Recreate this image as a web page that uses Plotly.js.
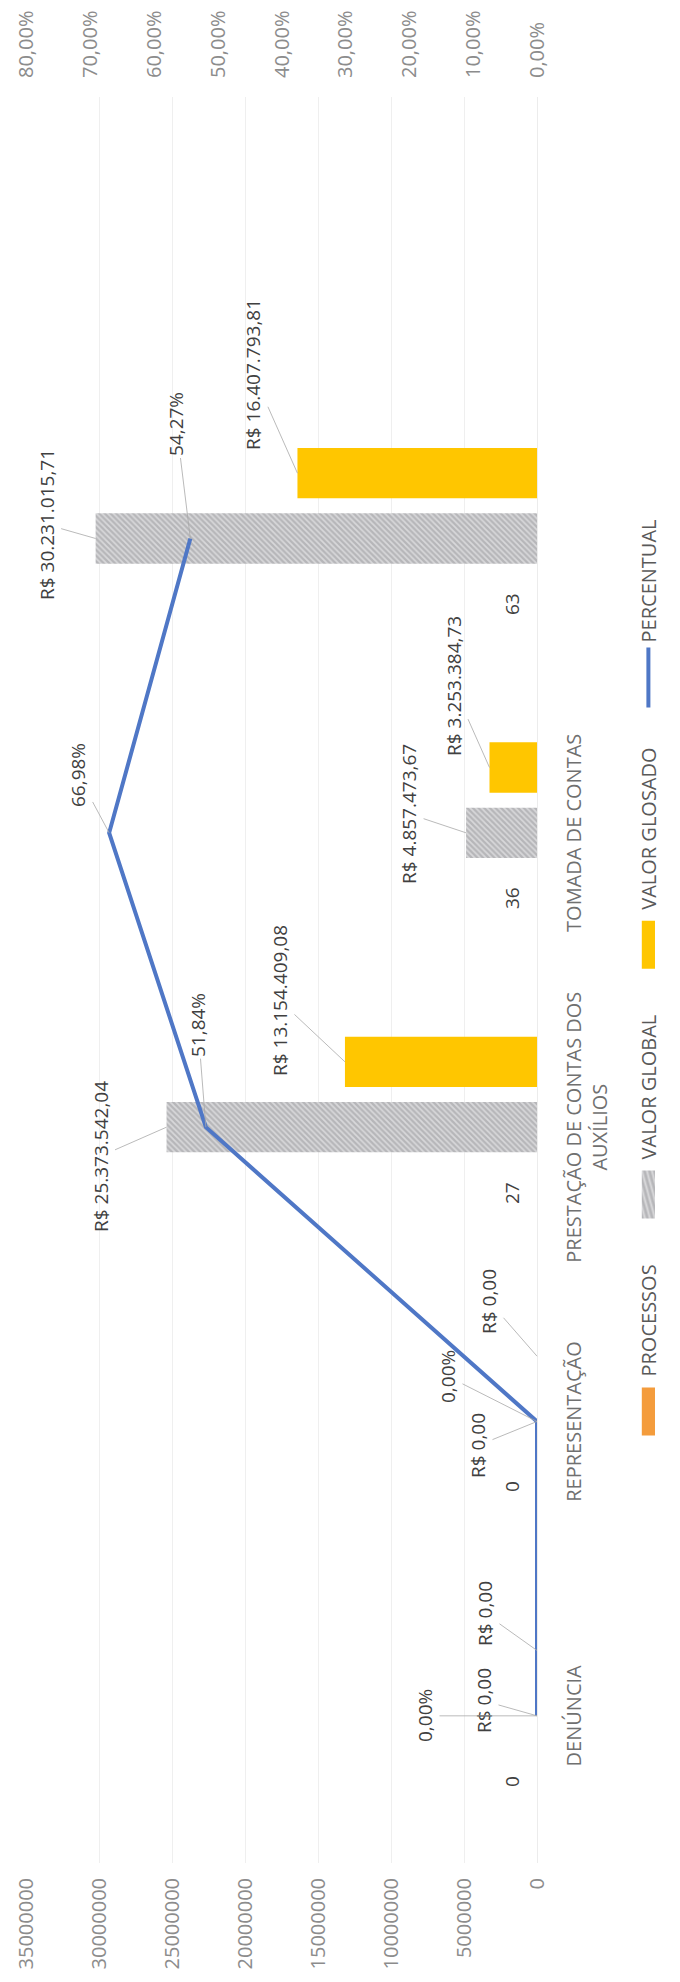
<!DOCTYPE html>
<html>
<head>
<meta charset="utf-8">
<script src="https://cdn.plot.ly/plotly-3.0.1.min.js"></script>
<style>
  html, body { margin:0; padding:0; width:680px; height:1982px; overflow:hidden; background:#fff; }
  #chart { position:absolute; left:0; top:0; width:1982px; height:680px;
           transform-origin:0 0; transform:translate(0px,1982px) rotate(-90deg); }
</style>
</head>
<body>
<div id="chart"></div>
<script>
// ---- data ----
const categories   = ['DENÚNCIA', 'REPRESENTAÇÃO', 'PRESTAÇÃO DE CONTAS DOS<br>AUXÍLIOS', 'TOMADA DE CONTAS', ''];
const processos    = [0, 0, 27, 36, 63];
const valorGlobal  = [0, 0, 25373542.04, 4857473.67, 30231015.71];
const valorGlosado = [0, 0, 13154409.08, 3253384.73, 16407793.81];
const percentual   = [0, 0, 0.5184, 0.6698, 0.5427];
const seriesNames  = ['PROCESSOS', 'VALOR GLOBAL', 'VALOR GLOSADO', 'PERCENTUAL'];

// ---- label callout offsets (px) ----
const pctOff   = [[0,-112],[45,-89],[102,-8],[58,-31],[114,-14]];
const globOff  = [[15,-53],[-24,-59],[-29,-66],[19,-57],[14,-49]];
const glosOff  = [[37,-52],[55,-48],[61,-65],[81,-36],[99,-44]];

function brl(v){
  const s = v.toFixed(2).split('.');
  const i = s[0].replace(/\B(?=(\d{3})+(?!\d))/g, '.');
  return 'R$ ' + i + ',' + s[1];
}
function pct(v){ return (v*100).toFixed(2).replace('.', ',') + '%'; }

const idx = categories.map((c,i)=>i);
const bargap = 0.334;
const slot = (1 - bargap) / 3;

const FONT = 'Open Sans, Noto Sans, sans-serif';
const labelFont = {family: FONT, size: 19, color: '#404040'};
const callout = {showarrow:true, arrowhead:0, arrowwidth:0.8, arrowcolor:'#a8a8a8', standoff:0};
const legendPad = '\u2003\u2002';

const traces = [
  {type:'bar', name: seriesNames[0] + legendPad, x: idx, y: processos,
   marker:{color:'#F49C3C'}, hoverinfo:'skip'},
  {type:'bar', name: seriesNames[1] + legendPad, x: idx, y: valorGlobal,
   marker:{color:'#b6b6b9', pattern:{shape:'/', fgcolor:'#d8d8da', bgcolor:'#b6b6b9', size:4, solidity:0.45}},
   hoverinfo:'skip'},
  {type:'bar', name: seriesNames[2] + legendPad, x: idx, y: valorGlosado,
   marker:{color:'#FFC600'}, hoverinfo:'skip'},
  {type:'scatter', mode:'lines', name: seriesNames[3], x: idx, y: percentual, yaxis:'y2',
   line:{color:'#4f77c6', width:4}, hoverinfo:'skip'}
];

const ann = [];
idx.forEach(i => {
  ann.push({x: i - slot, y: processos[i], xref:'x', yref:'y', text: String(processos[i]),
            showarrow:false, yshift:25, font:labelFont});
  ann.push(Object.assign({x: i, y: valorGlobal[i], xref:'x', yref:'y', text: brl(valorGlobal[i]),
            ax: globOff[i][0], ay: globOff[i][1], font:labelFont}, callout));
  ann.push(Object.assign({x: i + slot, y: valorGlosado[i], xref:'x', yref:'y', text: brl(valorGlosado[i]),
            ax: glosOff[i][0], ay: glosOff[i][1], font:labelFont}, callout));
  ann.push(Object.assign({x: i, y: percentual[i], xref:'x', yref:'y2', text: pct(percentual[i]),
            ax: pctOff[i][0], ay: pctOff[i][1], font:labelFont}, callout));
});

const layout = {
  width:1982, height:680,
  margin:{l:119, r:97, t:26, b:127},
  paper_bgcolor:'#ffffff', plot_bgcolor:'#ffffff',
  separators:',.',
  font:{family:FONT, color:'#595959'},
  barmode:'group', bargap: bargap, bargroupgap: 0.23,
  showlegend:true,
  legend:{orientation:'h', x:0.5, xanchor:'center', y:-0.218, yanchor:'middle',
          font:{family:FONT, size:20, color:'#595959'}, itemwidth:60, traceorder:'normal'},
  xaxis:{type:'linear', range:[-0.5, 5.5], tickvals: idx, ticktext: categories,
         showgrid:false, zeroline:false, showline:true, linecolor:'#ececec', ticks:'',
         ticklabelstandoff: 19,
         tickfont:{family:FONT, size:20, color:'#707070'}},
  yaxis:{range:[0, 35000000], dtick:5000000, tickformat:'d', showgrid:true, gridcolor:'#efefef',
         zeroline:false, ticks:'', ticklabelstandoff:14,
         tickfont:{family:FONT, size:20, color:'#8c8c8c'}},
  yaxis2:{overlaying:'y', side:'right', range:[0, 0.8], dtick:0.1, tickformat:'.2%',
          showgrid:false, zeroline:false, ticks:'', ticklabelstandoff:18,
          tickfont:{family:FONT, size:20, color:'#8c8c8c'}},
  annotations: ann
};

Plotly.newPlot('chart', traces, layout, {staticPlot:true, displayModeBar:false}).then(gd => {
  // widen the bar legend swatches to Excel-like strips
  gd.querySelectorAll('.legend .legendpoints path').forEach(p => {
    const d = p.getAttribute('d') || '';
    if (d.indexOf('H-6') >= 0) {
      const t = p.getAttribute('transform') || '';
      p.setAttribute('transform', t + ' scale(4,1.1)');
    }
  });
});
</script>
</body>
</html>
